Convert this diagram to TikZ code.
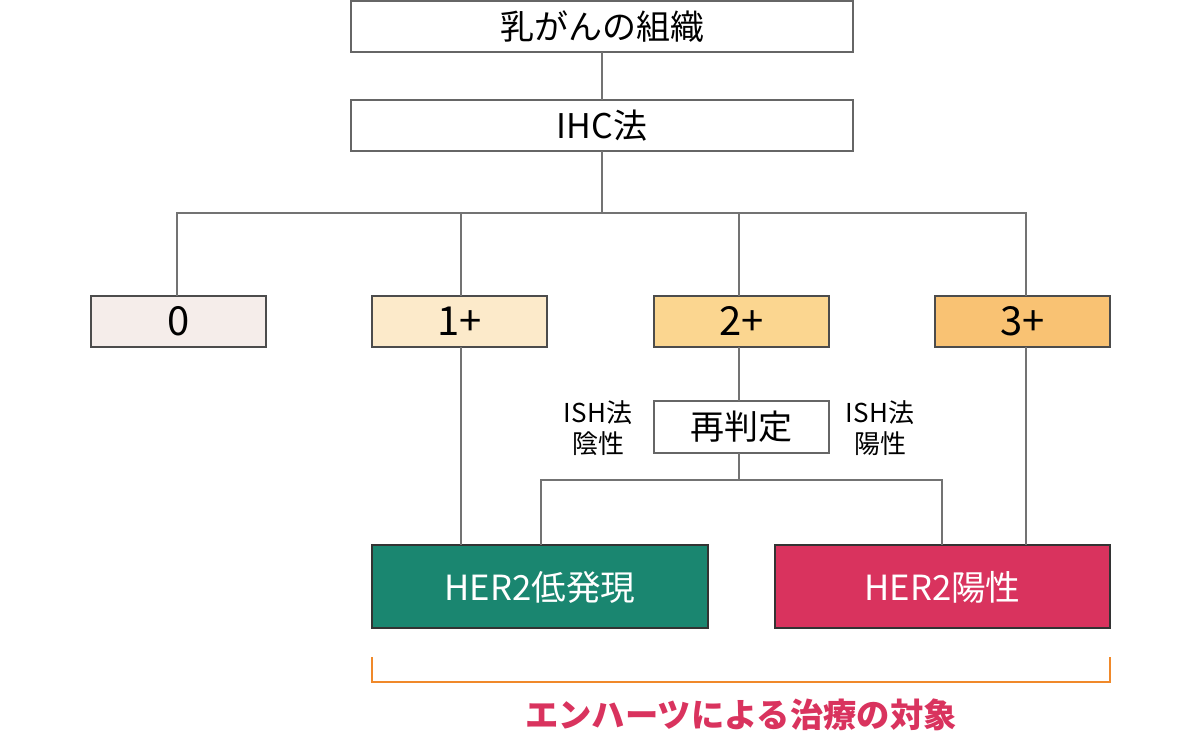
\documentclass[tikz,border=0pt]{standalone}
\usepackage{fontspec}
\setmainfont{Noto Sans CJK JP}
\begin{document}
\begin{tikzpicture}[x=0.75pt,y=-0.75pt,
  wbox/.style={draw=black!60, fill=white, line width=0.8pt},
  cbox/.style={draw=black!70, line width=0.8pt},
  conn/.style={draw=black!55, line width=0.8pt},
  lbl/.style={font=\fontsize{25.5pt}{30pt}\selectfont, text=black},
  num/.style={font=\fontsize{30pt}{34pt}\selectfont, text=black},
]
\useasboundingbox (0,0) rectangle (1200,733);
% boxes
\path[wbox] (351,1) rectangle (853,52);
\node[lbl] (top) at (602,27) {乳がんの組織};
\path[wbox] (351,100) rectangle (853,151);
\node[lbl] (ihc) at (602,126) {IHC法};
\path[cbox, fill={rgb,255:red,245;green,237;blue,234}] (91,296) rectangle (266,347);
\node[num] (z) at (178.5,321) {0};
\path[cbox, fill={rgb,255:red,252;green,234;blue,202}] (372,296) rectangle (547,347);
\node[num] (one) at (459.5,321) {1+};
\path[cbox, fill={rgb,255:red,251;green,214;blue,144}] (654,296) rectangle (829,347);
\node[num] (two) at (741.5,321) {2+};
\path[cbox, fill={rgb,255:red,249;green,194;blue,115}] (935,296) rectangle (1110,347);
\node[num] (three) at (1022.5,321) {3+};
\path[wbox] (654,401) rectangle (829,453);
\node[lbl] (re) at (741.5,427) {再判定};
\path[draw=black!80, line width=0.8pt, fill={rgb,255:red,26;green,134;blue,112}] (372,545) rectangle (708,628);
\node[lbl, text=white, font=\fontsize{26pt}{30pt}\selectfont] (low) at (540,587) {HER2低発現};
\path[draw=black!80, line width=0.8pt, fill={rgb,255:red,217;green,51;blue,94}] (775,545) rectangle (1110,628);
\node[lbl, text=white, font=\fontsize{26pt}{30pt}\selectfont] (pos) at (942.5,587) {HER2陽性};
% side labels
\node[font=\fontsize{19.5pt}{23pt}\selectfont, align=center] (neg) at (598,428) {ISH法\\陰性};
\node[font=\fontsize{19.5pt}{23pt}\selectfont, align=center] (posl) at (880,428) {ISH法\\陽性};
% connectors
\coordinate (j1) at (602,213);
\coordinate (j2) at (739,480);
\draw[conn] (602,52) -- (602,100);
\draw[conn] (602,151) -- (j1);
\draw[conn] (177,296) -- (177,213) -- (1026,213) -- (1026,296);
\draw[conn] (461,213) -- (461,296);
\draw[conn] (739,213) -- (739,296);
\draw[conn] (461,347) -- (461,545);
\draw[conn] (739,347) -- (739,401);
\draw[conn] (739,453) -- (j2);
\draw[conn] (541,545) -- (541,480) -- (942,480) -- (942,545);
\draw[conn] (1026,347) -- (1026,545);
% bracket
\draw[draw={rgb,255:red,240;green,137;blue,42}, line width=1pt] (372,657) -- (372,682) -- (1110,682) -- (1110,657);
\node[font=\fontsize{25pt}{30pt}\selectfont\bfseries, text={rgb,255:red,217;green,51;blue,94}] (foot) at (741,715) {エンハーツによる治療の対象};
\end{tikzpicture}
\end{document}
